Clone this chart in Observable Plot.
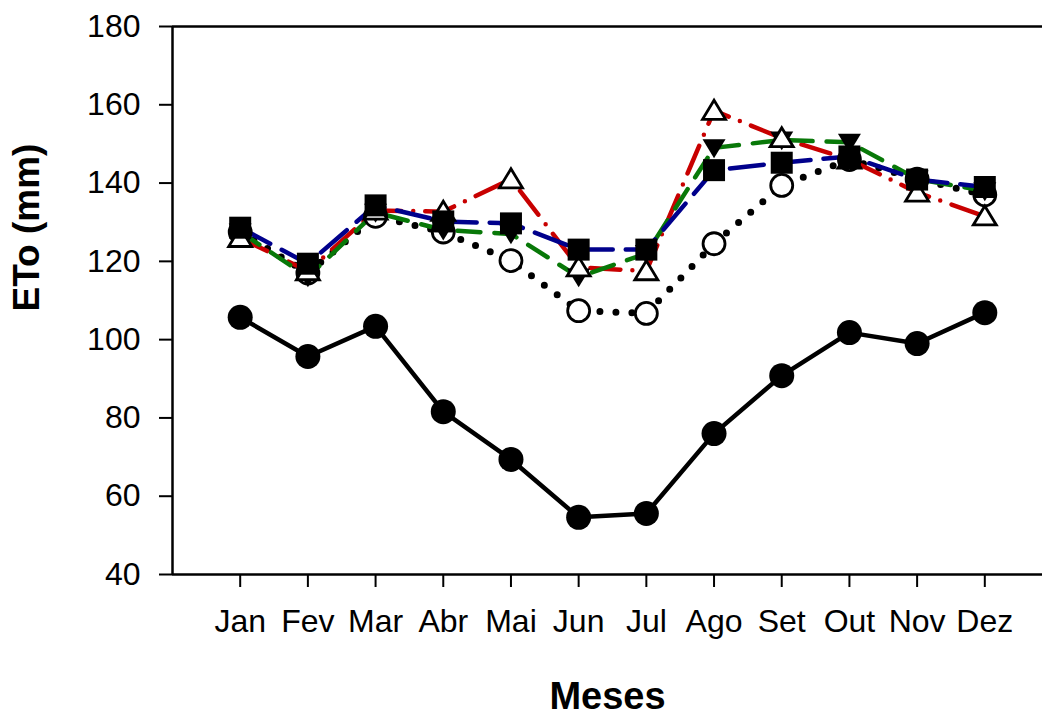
<!DOCTYPE html>
<html>
<head>
<meta charset="utf-8">
<script src="https://cdn.jsdelivr.net/npm/d3@7"></script>
<script src="https://cdn.jsdelivr.net/npm/@observablehq/plot@0.6"></script>
<style>
  html, body { margin: 0; padding: 0; background: #fff; overflow: hidden; }
</style>
</head>
<body>
<div id="chart"></div>
<script>
// Month categories and tick labels
const months = ["Jan","Fev","Mar","Abr","Mai","Jun","Jul","Ago","Set","Out","Nov","Dez"];
const yTicks = [40, 60, 80, 100, 120, 140, 160, 180];

// Series values (ETo, mm)
const filledCircles = [105.7, 95.7, 103.4, 81.6, 69.4, 54.6, 55.6, 76.0, 90.8, 101.8, 99.0, 106.9];   // solid black
const openCircles   = [127.5, 117.0, 131.5, 127.5, 120.2, 107.4, 106.7, 124.5, 139.4, 146.0, 141.0, 137.0]; // dotted black
const openTriangles = [126.0, 117.5, 133.0, 132.7, 141.0, 118.5, 117.5, 158.5, 151.5, 146.0, 137.6, 131.5]; // red dash-dot
const downTriangles = [127.5, 116.0, 132.5, 128.0, 127.0, 116.0, 122.0, 149.0, 151.0, 150.4, 141.0, 138.0]; // green dashed
const squares       = [128.6, 119.4, 134.3, 130.2, 129.7, 123.0, 123.0, 143.3, 145.2, 146.8, 140.9, 139.0]; // blue long dash

const X = (d, i) => i + 1;
const Y = d => d;

const squareSym = {draw(ctx, size) { const r = Math.sqrt(size / Math.PI); ctx.rect(-r, -r, 2 * r, 2 * r); }};
const triUp = {draw(ctx, size) { const r = Math.sqrt(size / Math.PI);
  ctx.moveTo(0, -0.9 * r); ctx.lineTo(r, 0.75 * r); ctx.lineTo(-r, 0.75 * r); ctx.closePath(); }};
const triDown = {draw(ctx, size) { const r = Math.sqrt(size / Math.PI);
  ctx.moveTo(0, 0.9 * r); ctx.lineTo(r, -0.75 * r); ctx.lineTo(-r, -0.75 * r); ctx.closePath(); }};

const red = "#c80000", green = "#087808", blue = "#00008c";

const chart = Plot.plot({
  width: 1042,
  height: 718,
  marginLeft: 172,
  marginRight: 0,
  marginTop: 26,
  marginBottom: 144,
  style: {fontFamily: "'Liberation Sans', Arial, sans-serif", fontSize: "32px", color: "black", background: "white"},
  x: {domain: [0, 13], range: [172, 1052]},
  y: {domain: [40, 180]},
  marks: [
    // frame lines
    Plot.ruleY([40, 180], {stroke: "black", strokeWidth: 2.5}),
    Plot.ruleX([0], {stroke: "black", strokeWidth: 2.5}),
    Plot.axisX({ticks: d3.range(1, 13), tickFormat: d => months[d - 1], tickSize: 13, tickPadding: 22, strokeWidth: 2, label: null}),
    Plot.axisY({ticks: yTicks, tickSize: 13, tickPadding: 19, strokeWidth: 2, label: null}),
    // lines
    Plot.line(filledCircles, {x: X, y: Y, stroke: "black", strokeWidth: 4.5}),
    Plot.line(openCircles, {x: X, y: Y, stroke: "black", strokeWidth: 7, strokeDasharray: "0,16", strokeLinecap: "round"}),
    Plot.line(openTriangles, {x: X, y: Y, stroke: red, strokeWidth: 4.5, strokeDasharray: "30,12,0,12", strokeLinecap: "round"}),
    Plot.line(downTriangles, {x: X, y: Y, stroke: green, strokeWidth: 4.5, strokeDasharray: "23,14", strokeLinecap: "round"}),
    Plot.line(squares, {x: X, y: Y, stroke: blue, strokeWidth: 4.5, strokeDasharray: "34,13", strokeLinecap: "round"}),
    // markers
    Plot.dot(filledCircles, {x: X, y: Y, r: 12.5, fill: "black", stroke: "none"}),
    Plot.dot(openCircles, {x: X, y: Y, r: 11, fill: "white", stroke: "black", strokeWidth: 2.8}),
    Plot.dot(downTriangles, {x: X, y: Y, r: 11.5, symbol: triDown, fill: "black", stroke: "none"}),
    Plot.dot(openTriangles, {x: X, y: Y, r: 11.5, symbol: triUp, fill: "white", stroke: "black", strokeWidth: 2.8}),
    Plot.dot(squares, {x: X, y: Y, r: 11, symbol: squareSym, fill: "black", stroke: "none"}),
    // axis titles
    Plot.text(["ETo (mm)"], {frameAnchor: "left", dx: -145, dy: 11, rotate: -90, fontWeight: "bold", fontSize: 37, fill: "black"}),
    Plot.text(["Meses"], {frameAnchor: "bottom", dy: 134, fontWeight: "bold", fontSize: 38, fill: "black"})
  ]
});
document.getElementById("chart").appendChild(chart);
</script>
</body>
</html>
